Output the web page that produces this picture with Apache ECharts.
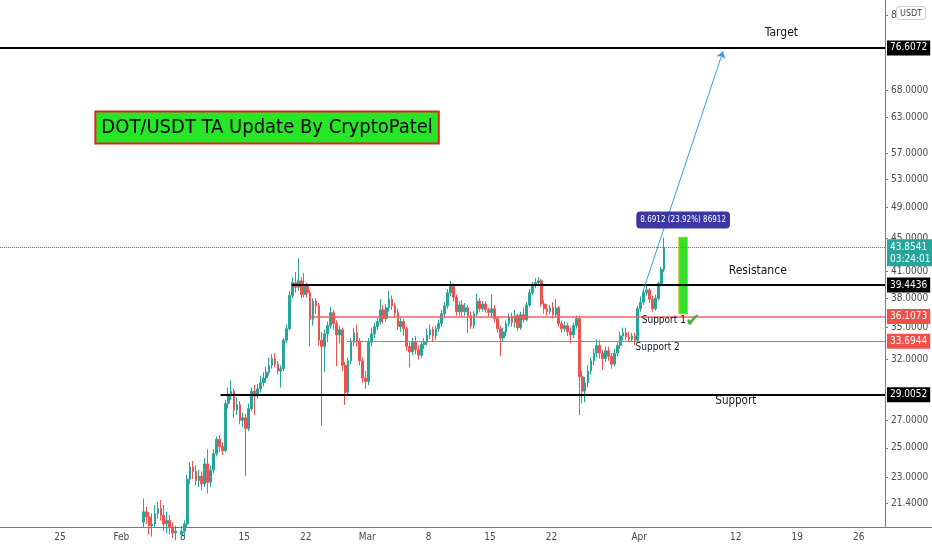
<!DOCTYPE html>
<html><head><meta charset="utf-8">
<script src="https://cdn.jsdelivr.net/npm/echarts@6/dist/echarts.min.js"></script>
<style>html,body{margin:0;padding:0;background:#fff}#c{width:932px;height:550px}</style>
</head><body><div id="c"></div><script>
// x unit = days since 18 Jan 2021; candles are 8-hour bars
const startDay = 16.5;
const stepDay = 1 / 3;
// [open, close, low, high]
const candles = [
[20.3,20.9,20.0,21.7],[20.9,20.6,20.2,21.2],[20.6,20.1,19.6,20.9],[20.1,20.2,19.5,20.8],[20.2,20.8,20.0,21.3],
[20.8,21.1,20.5,21.5],[21.1,20.7,20.4,21.6],[20.7,20.2,19.8,21.3],[20.2,20.4,19.7,20.9],[20.4,20.0,19.6,20.7],
[20.0,19.7,19.4,20.3],[19.7,19.8,19.3,20.1],[19.8,19.6,19.2,20.0],[19.6,19.8,19.3,20.1],[19.8,20.2,19.5,20.4],
[20.2,22.9,20.0,23.2],[22.9,23.7,22.6,24.0],[23.7,23.4,22.9,24.1],[23.4,22.8,22.5,23.8],[22.8,23.1,22.4,23.5],
[23.1,22.6,22.2,23.4],[22.6,23.9,22.4,24.3],[23.9,22.7,22.0,24.9],[22.7,23.5,22.4,23.8],[23.5,24.6,23.3,24.9],
[24.6,25.6,24.4,25.8],[25.6,25.1,24.7,25.9],[25.1,24.8,24.5,25.4],[24.8,28.3,24.7,28.6],[28.3,29.0,27.9,29.6],
[29.0,29.3,28.6,30.2],[29.3,27.8,27.2,29.5],[27.8,28.2,27.4,28.8],[28.2,27.0,26.7,28.5],[27.0,27.2,26.5,27.6],
[27.2,26.4,23.1,27.5],[26.4,27.9,26.2,28.3],[27.9,29.3,27.7,29.6],[29.3,28.9,27.4,29.8],[28.9,29.5,28.7,29.9],
[29.5,30.0,29.2,30.6],[30.0,30.4,29.7,30.9],[30.4,30.9,30.0,31.4],[30.9,31.5,30.6,32.2],[31.5,32.1,31.2,32.5],
[32.1,31.6,31.3,32.6],[31.6,31.0,30.7,31.9],[31.0,31.2,29.6,31.5],[31.2,33.8,31.0,34.0],[33.8,34.9,33.5,35.3],
[34.9,38.3,34.7,38.8],[38.3,39.7,38.0,40.3],[39.7,39.2,38.6,40.9],[39.2,39.9,38.8,42.5],[39.9,38.4,38.0,40.3],
[38.4,39.3,38.1,40.8],[39.3,38.6,38.1,39.7],[38.6,35.8,33.2,38.9],[35.8,37.7,35.2,38.0],[37.7,37.2,36.4,38.0],
[37.2,33.8,33.3,37.5],[33.8,33.2,26.6,34.6],[33.2,34.4,30.9,34.8],[34.4,35.2,33.6,35.6],[35.2,36.5,34.9,37.1],
[36.5,35.4,34.8,36.8],[35.4,34.3,31.4,35.7],[34.3,34.8,33.5,35.2],[34.8,31.5,31.0,35.0],[31.5,29.2,28.2,31.8],
[29.2,31.9,28.9,32.2],[31.9,33.6,31.6,34.0],[33.6,34.5,33.2,35.0],[34.5,33.7,33.2,35.3],[33.7,31.9,31.5,34.0],
[31.9,30.4,30.0,32.2],[30.4,30.1,29.5,31.0],[30.1,33.6,29.8,34.0],[33.6,34.4,33.2,35.0],[34.4,35.1,34.0,35.5],
[35.1,35.6,34.8,36.0],[35.6,36.8,35.3,37.9],[36.8,35.9,35.4,37.3],[35.9,37.0,35.6,37.4],[37.0,37.9,36.6,38.8],
[37.9,37.2,36.8,38.3],[37.2,36.5,36.0,37.5],[36.5,35.1,34.8,36.9],[35.1,35.6,34.6,36.0],[35.6,34.9,34.2,35.9],
[34.9,33.2,32.8,35.1],[33.2,32.7,31.3,33.6],[32.7,33.6,32.4,34.0],[33.6,32.9,32.5,34.2],[32.9,32.4,32.0,33.3],
[32.4,33.4,32.2,33.7],[33.4,33.6,33.0,34.0],[33.6,34.3,33.3,34.9],[34.3,34.8,33.9,35.3],[34.8,34.2,33.6,35.1],
[34.2,34.9,33.8,35.2],[34.9,35.4,34.6,35.8],[35.4,36.4,35.1,36.8],[36.4,37.2,36.0,37.6],[37.2,38.6,36.9,39.0],
[38.6,39.3,38.2,39.9],[39.3,38.1,37.7,39.6],[38.1,36.6,36.2,38.4],[36.6,37.3,36.2,37.7],[37.3,36.6,36.1,37.8],
[36.6,37.0,36.2,37.5],[37.0,36.2,34.5,37.3],[36.2,35.2,34.9,36.6],[35.2,36.4,34.9,36.7],[36.4,37.7,36.1,38.5],
[37.7,36.9,36.6,38.0],[36.9,37.4,36.6,37.7],[37.4,36.8,36.5,37.7],[36.8,36.5,36.1,37.0],[36.5,36.9,36.0,38.4],
[36.9,35.9,35.5,37.3],[35.9,34.9,34.5,36.1],[34.9,34.0,32.3,35.2],[34.0,34.6,33.7,35.0],[34.6,35.4,34.2,35.7],
[35.4,36.1,35.1,36.4],[36.1,35.5,35.1,36.5],[35.5,36.2,35.0,36.8],[36.2,35.0,34.7,36.4],[35.0,36.3,34.8,36.6],
[36.3,35.8,35.5,37.0],[35.8,37.3,35.6,37.6],[37.3,38.6,37.1,39.0],[38.6,39.4,38.3,39.8],[39.4,39.7,39.1,40.2],
[39.7,39.9,39.3,40.3],[39.9,37.4,37.1,40.1],[37.4,36.9,36.4,37.8],[36.9,36.6,36.2,37.4],[36.6,37.0,36.3,37.3],
[37.0,36.3,35.9,37.6],[36.3,37.0,36.1,37.9],[37.0,35.4,35.1,37.2],[35.4,34.9,34.5,35.7],[34.9,35.2,34.6,35.6],
[35.2,34.6,34.2,35.5],[34.6,34.3,33.5,35.0],[34.3,35.2,34.0,35.5],[35.2,35.9,34.9,36.2],[35.9,30.5,27.4,36.2],
[30.5,29.3,28.3,31.0],[29.3,30.0,28.4,30.5],[30.0,31.0,29.6,31.5],[31.0,31.9,30.7,32.2],[31.9,32.6,31.5,33.0],
[32.6,33.3,32.2,33.9],[33.3,32.6,32.1,33.8],[32.6,32.1,31.1,32.9],[32.1,32.8,31.8,33.2],[32.8,32.3,31.9,33.2],
[32.3,31.6,31.2,32.6],[31.6,32.6,31.4,33.0],[32.6,33.3,32.3,33.6],[33.3,34.2,33.0,34.6],[34.2,34.5,33.8,35.0],
[34.5,34.1,33.8,35.0],[34.1,33.9,33.6,34.6],[33.9,34.2,33.7,34.5],[34.2,33.8,33.3,34.5],[33.8,36.9,33.6,37.2],
[36.9,37.6,36.6,38.2],[37.6,38.6,37.3,39.0],[38.6,38.9,38.3,39.5],[38.9,37.9,37.5,39.1],[37.9,36.9,36.6,38.3],
[36.9,38.0,36.7,38.4],[38.0,39.6,37.8,39.8],[39.6,41.2,39.3,41.5],[41.2,43.85,40.9,45.0]
];
const tickDays = [7, 14, 21, 28, 35, 42, 49, 56, 63, 73, 84, 91, 98];
const tickLabels = ['25', 'Feb', '8', '15', '22', 'Mar', '8', '15', '22', 'Apr', '12', '19', '26'];
const priceTicks = [21.4, 23, 25, 27, 32, 35, 38, 41, 45, 49, 53, 57, 63, 68, 84];
const targetLevel = 76.6072;
const lastPrice = 43.8541;
const resistanceLevel = 39.4436;
const support1Level = 36.1073;
const support2Level = 33.6944;
const supportLevel = 29.0052;
const moveText = '8.6912 (23.92%) 86912';
const countdown = '03:24:01';

const FONT = "'Liberation Sans Narrow','DejaVu Sans Condensed',sans-serif";
const seriesData = candles.map((c, i) => [startDay + i * stepDay, c[0], c[1], c[2], c[3]]);
const labelMap = {};
tickDays.forEach((d, i) => { labelMap[d] = tickLabels[i]; });

function priceBox(bg, text, extra) {
  return Object.assign({ show: true, position: 'end', distance: 2, formatter: text, color: '#fff',
    backgroundColor: bg, padding: [2, 3, 1, 3], fontSize: 10, fontFamily: FONT, lineHeight: 12 }, extra || {});
}
function note(coord, text, extra) {
  return { coord: coord, symbolSize: 0,
    label: Object.assign({ show: true, position: 'inside', formatter: text, color: '#131722',
      fontFamily: FONT, fontSize: 14 }, extra || {}) };
}

const chart = echarts.init(document.getElementById('c'));
chart.setOption({
  animation: false,
  backgroundColor: '#fff',
  grid: { left: 0, right: 47, top: 0, bottom: 23 },
  xAxis: {
    type: 'value', min: 0.17, max: 101,
    axisLine: { show: true, lineStyle: { color: '#787b86' } },
    axisTick: { show: false },
    splitLine: { show: false },
    axisLabel: { customValues: tickDays, formatter: v => labelMap[Math.round(v)] || '',
      color: '#4a4a4a', fontSize: 10, fontFamily: FONT, margin: 5 }
  },
  yAxis: {
    type: 'log', logBase: 10, min: 20.03, max: 87.6, position: 'right',
    axisLine: { show: true, lineStyle: { color: '#787b86' } },
    axisTick: { show: true, inside: false, length: 3, customValues: priceTicks, lineStyle: { color: '#787b86' } },
    splitLine: { show: false },
    axisLabel: { customValues: priceTicks, formatter: v => Number(v).toFixed(4),
      color: '#4a4a4a', fontSize: 10, fontFamily: FONT, margin: 6 }
  },
  series: [{
    type: 'candlestick',
    data: seriesData,
    encode: { x: 0, y: [1, 2, 3, 4] },
    barWidth: 2.2,
    clip: true,
    itemStyle: { color: '#26a69a', color0: '#ef5350', borderColor: '#26a69a', borderColor0: '#ef5350', borderWidth: 1 },
    markArea: {
      silent: true,
      data: [[{ coord: [77.5, 36.37], itemStyle: { color: '#33e02a', borderColor: '#d9c23a', borderWidth: 1 } },
              { coord: [78.5, 45.1] }]]
    },
    markLine: {
      silent: true, symbol: ['none', 'none'], animation: false,
      data: [
        { yAxis: targetLevel, lineStyle: { color: '#000', width: 2, type: 'solid' }, label: priceBox('#000', targetLevel.toFixed(4)) },
        { yAxis: lastPrice, lineStyle: { color: '#26a69a', width: 1, type: 'dotted' },
          label: priceBox('#26a69a', lastPrice.toFixed(4) + '\n' + countdown, { verticalAlign: 'top', offset: [0, -8] }) },
        [{ coord: [33.4, resistanceLevel], lineStyle: { color: '#000', width: 2, type: 'solid' }, label: priceBox('#000', resistanceLevel.toFixed(4)) }, { coord: [101, resistanceLevel] }],
        [{ coord: [35.4, support1Level], lineStyle: { color: '#f0625d', width: 1.5, type: 'solid' }, label: priceBox('#f0504a', support1Level.toFixed(4)) }, { coord: [101, support1Level] }],
        [{ coord: [39.7, support2Level], lineStyle: { color: '#f0625d', width: 1.2, type: 'solid' }, label: priceBox('#f0504a', support2Level.toFixed(4)) }, { coord: [101, support2Level] }],
        [{ coord: [25.3, supportLevel], lineStyle: { color: '#000', width: 2, type: 'solid' }, label: priceBox('#000', supportLevel.toFixed(4)) }, { coord: [101, supportLevel] }],
        [{ coord: [73.4, 38.68], symbol: 'none', lineStyle: { color: '#3d9be9', width: 1, type: 'solid' }, label: { show: false } },
         { coord: [82.55, 75.9], symbol: 'arrow', symbolSize: 7 }]
      ]
    },
    markPoint: {
      silent: true, symbol: 'circle', symbolSize: 0, itemStyle: { color: 'rgba(0,0,0,0)' },
      data: [
        note([30.6, 61.3], 'DOT/USDT TA Update By CryptoPatel', { fontSize: 20, color: '#000', backgroundColor: '#27e627',
          borderColor: '#e0261c', borderWidth: 2, padding: [4, 5, 3, 5], lineHeight: 23 }),
        note([89.2, 79.9], 'Target', { fontSize: 12 }),
        note([86.5, 41.0], 'Resistance', { fontSize: 12 }),
        note([84.0, 28.5], 'Support', { fontSize: 11.5 }),
        note([75.8, 35.7], 'Support 1', { fontSize: 10 }),
        note([75.1, 33.1], 'Support 2', { fontSize: 10 }),
        note([79.1, 35.65], '\u2714', { fontSize: 18, color: '#43b049', fontFamily: 'DejaVu Sans' }),
        note([78.0, 47.3], moveText, { fontSize: 8, color: '#fff', backgroundColor: '#3b37a3', borderRadius: 4, padding: [5, 4, 4, 4] })
      ]
    }
  }],
  graphic: [
    { type: 'line', shape: { x1: 885, y1: 527.5, x2: 932, y2: 527.5 }, style: { stroke: '#787b86', lineWidth: 1 }, silent: true },
    { type: 'rect', shape: { x: 918, y: 5, width: 14, height: 18 }, style: { fill: '#fff' }, silent: true, z: 99 },
    { type: 'text', x: 897, y: 7, style: { text: 'USDT', fontSize: 9, fontFamily: FONT, fill: '#4a4a4a',
      backgroundColor: '#fff', borderColor: '#ccc', borderWidth: 1, borderRadius: 3, padding: [2, 3, 1, 3] }, z: 100 }
  ]
});
</script></body></html>
